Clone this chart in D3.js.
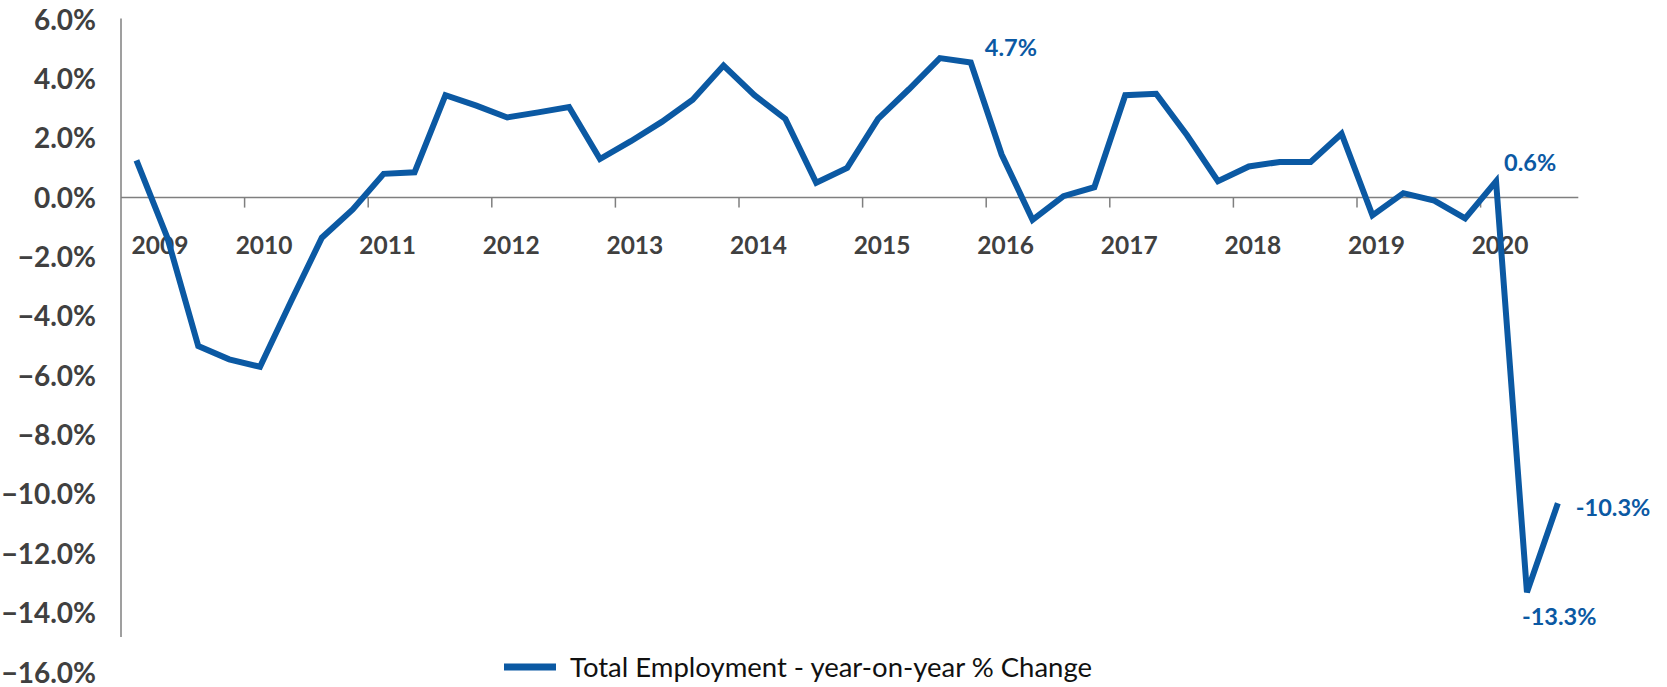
<!DOCTYPE html>
<html>
<head>
<meta charset="utf-8">
<script src="https://cdn.jsdelivr.net/npm/d3@7"></script>
<style>
    body { margin: 0; background: #ffffff; }
    svg { display: block; font-family: Lato, "Open Sans", sans-serif; }
</style>
</head>
<body>
<div id="chart"></div>
<script>
// Quarterly data, 2009 Q1 to 2020 Q3
var years = ["2009", "2010", "2011", "2012", "2013", "2014", "2015", "2016", "2017", "2018", "2019", "2020"];
var quarters = ["Q1", "Q2", "Q3", "Q4"];

// Total Employment - year-on-year % change
var employmentChange = [
    1.25, -1.35, -5.0, -5.45,
    -5.7, -3.5, -1.35, -0.4,
    0.8, 0.85, 3.45, 3.1,
    2.7, 2.87, 3.05, 1.3,
    1.9, 2.55, 3.3, 4.45,
    3.45, 2.65, 0.5, 1.0,
    2.65, 3.65, 4.7, 4.55,
    1.45, -0.75, 0.05, 0.35,
    3.45, 3.5, 2.1, 0.55,
    1.05, 1.2, 1.2, 2.15,
    -0.6, 0.15, -0.1, -0.7,
    0.55, -13.3, -10.3
];

// Y axis tick values
var yTicks = [6, 4, 2, 0, -2, -4, -6, -8, -10, -12, -14, -16];

// Annotated points: index into the series and the label shown
var labelIndex = [26, 44, 46, 45];
var labelText = ["4.7%", "0.6%", "-10.3%", "-13.3%"];

var seriesName = "Total Employment - year-on-year % Change";

// Build category keys like "2009 Q1"
var categories = [];
years.forEach(function(y) {
    quarters.forEach(function(q) {
        categories.push(y + " " + q);
    });
});
categories = categories.slice(0, employmentChange.length);

var data = employmentChange.map(function(v, i) {
    return { key: categories[i], value: v };
});

var width = 1667, height = 687;
var blue = "#0b59a3";
var axisGrey = "#7f7f7f";
var textGrey = "#404040";

var svg = d3.select("#chart")
    .append("svg")
    .attr("width", width)
    .attr("height", height);

// Scales
var x = d3.scaleBand()
    .domain(categories)
    .range([121, 121 + 47 * 30.9])
    .paddingInner(0)
    .paddingOuter(0);

var y = d3.scaleLinear()
    .domain([-16, 6])
    .range([672.5, 19.5]);

var xMid = function(k) { return x(k) + x.bandwidth() / 2; };

// Y axis line (stops short of the last label like the original)
svg.append("line")
    .attr("x1", x.range()[0])
    .attr("x2", x.range()[0])
    .attr("y1", y(6) - 1)
    .attr("y2", y(-14.8))
    .attr("stroke", axisGrey)
    .attr("stroke-width", 1.5);

// Y axis labels
svg.append("g")
    .selectAll("text")
    .data(yTicks)
    .enter()
    .append("text")
    .attr("x", 96)
    .attr("y", function(d) { return y(d); })
    .attr("dy", "0.36em")
    .attr("text-anchor", "end")
    .style("font-size", "28px")
    .style("font-weight", "bold")
    .style("fill", textGrey)
    .text(function(d) { return d3.format(".1f")(d) + "%"; });

// X axis line at zero
svg.append("line")
    .attr("x1", x.range()[0])
    .attr("x2", x.range()[1] + 5)
    .attr("y1", y(0))
    .attr("y2", y(0))
    .attr("stroke", axisGrey)
    .attr("stroke-width", 1.5);

// Year tick marks between Q4 and Q1
var yearStarts = categories.filter(function(c, i) { return i > 0 && i % 4 === 0; });
svg.append("g")
    .selectAll("line")
    .data(yearStarts)
    .enter()
    .append("line")
    .attr("x1", function(d) { return x(d); })
    .attr("x2", function(d) { return x(d); })
    .attr("y1", y(0))
    .attr("y2", y(0) + 10)
    .attr("stroke", axisGrey)
    .attr("stroke-width", 1.5);

// Year labels, centred on the first quarter of each year
svg.append("g")
    .selectAll("text")
    .data(years)
    .enter()
    .append("text")
    .attr("x", function(d) {
        return Math.max(xMid(d + " Q1") + 4, x.range()[0] + 39);
    })
    .attr("y", 245.5)
    .attr("dy", "0.36em")
    .attr("text-anchor", "middle")
    .style("font-size", "24.5px")
    .style("font-weight", "bold")
    .style("fill", textGrey)
    .text(function(d) { return d; });

// The series line
var line = d3.line()
    .x(function(d) { return xMid(d.key); })
    .y(function(d) { return y(d.value); });

svg.append("path")
    .datum(data)
    .attr("d", line)
    .attr("fill", "none")
    .attr("stroke", blue)
    .attr("stroke-width", 6)
    .attr("stroke-linejoin", "miter");

// Data labels (offsets from their points)
var labelOffsets = [[45, -11], [8, -19], [18, 4], [-5, 24]];
svg.append("g")
    .selectAll("text")
    .data(labelIndex)
    .enter()
    .append("text")
    .attr("x", function(d, i) { return xMid(data[d].key) + labelOffsets[i][0]; })
    .attr("y", function(d, i) { return y(data[d].value) + labelOffsets[i][1]; })
    .attr("dy", "0.36em")
    .style("font-size", "23.5px")
    .style("font-weight", "bold")
    .style("fill", blue)
    .text(function(d, i) { return labelText[i]; });

// Legend
var legend = svg.append("g");
legend.append("line")
    .attr("x1", 504)
    .attr("x2", 556)
    .attr("y1", 667)
    .attr("y2", 667)
    .attr("stroke", blue)
    .attr("stroke-width", 7);

legend.append("text")
    .attr("x", 570)
    .attr("y", 667)
    .attr("dy", "0.36em")
    .style("font-size", "27.5px")
    .style("fill", "#111111")
    .text(seriesName);
</script>
</body>
</html>
